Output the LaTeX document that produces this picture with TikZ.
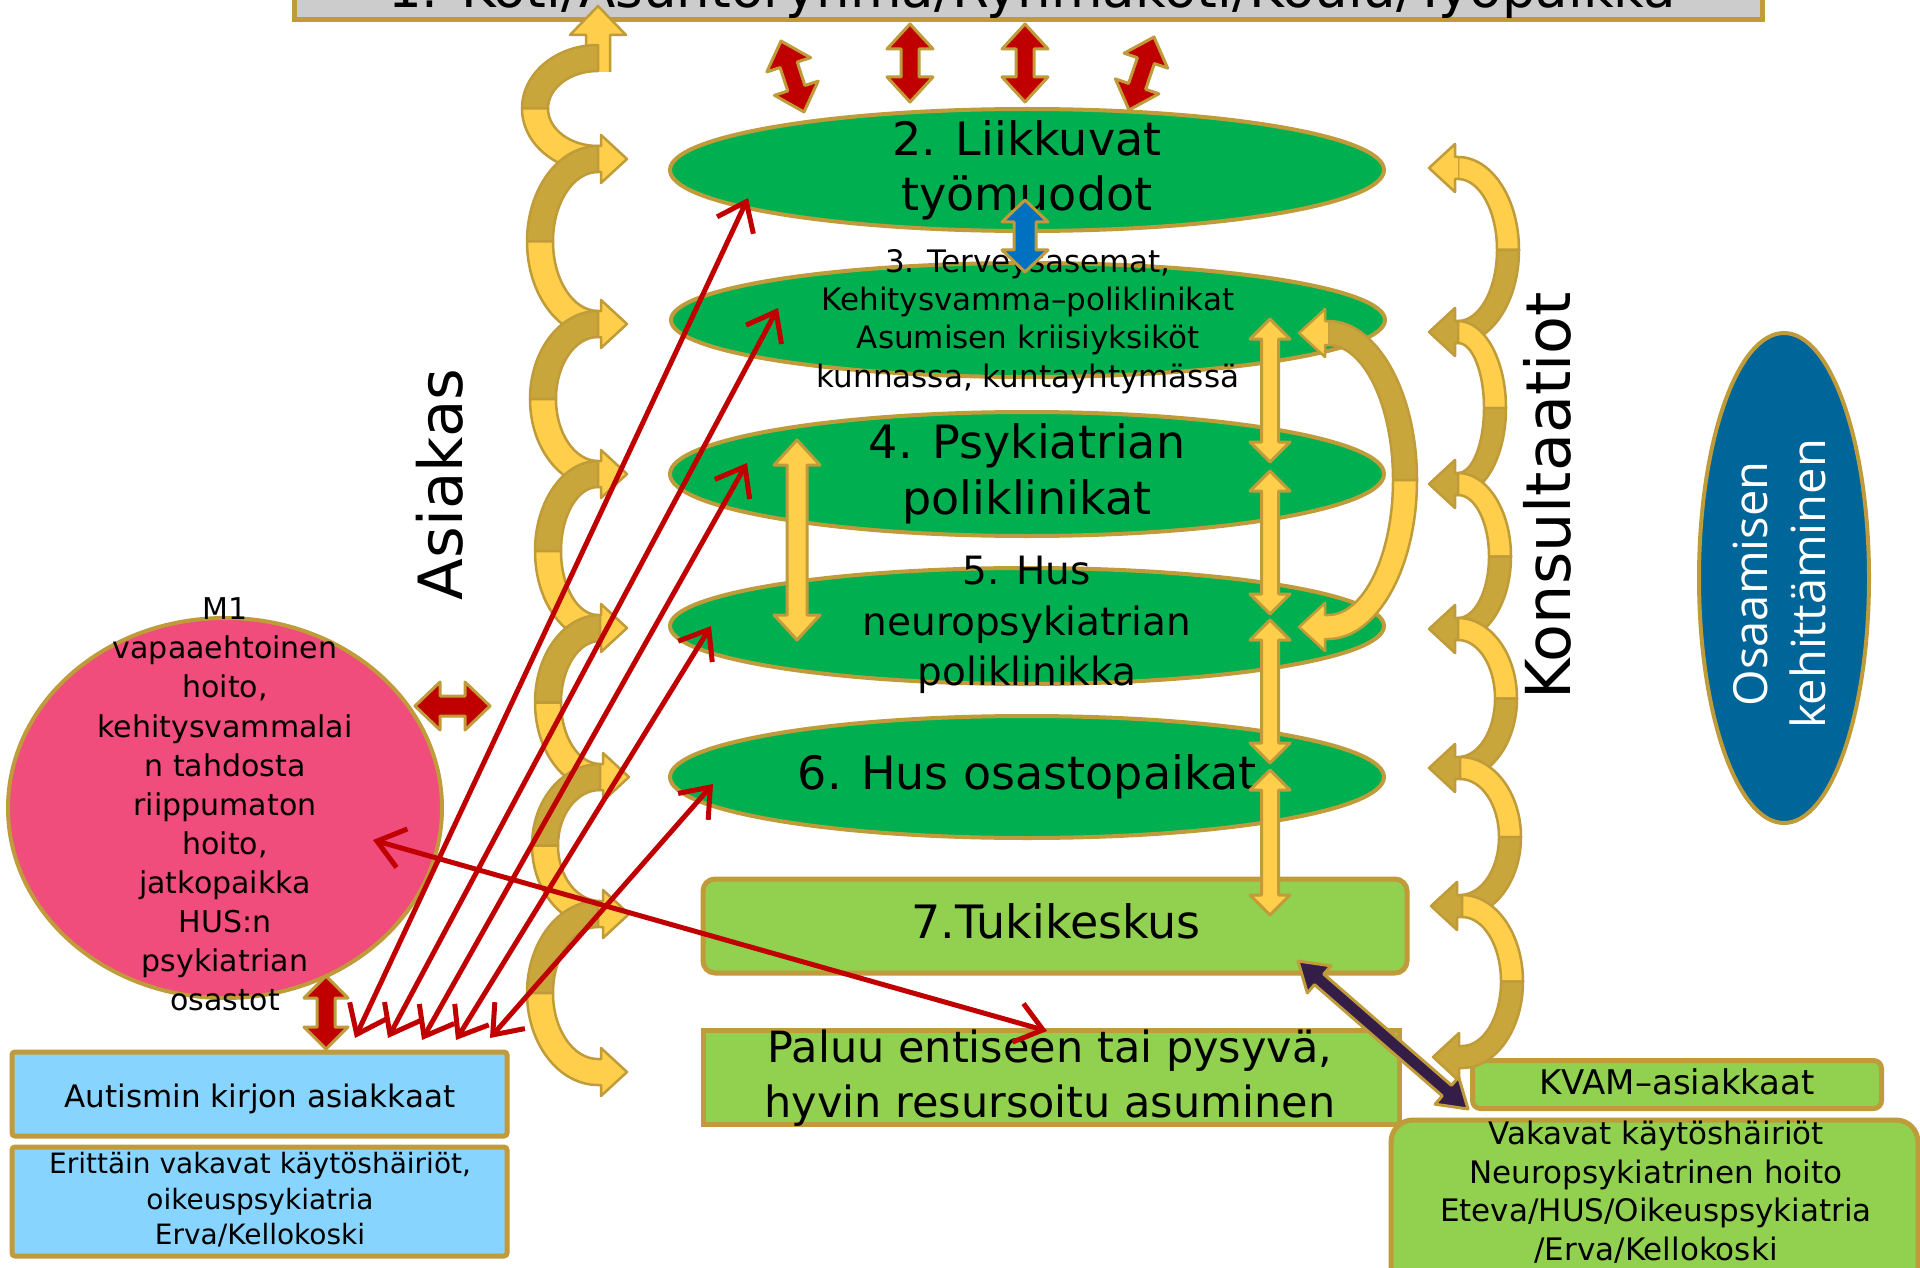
\documentclass[tikz,border=0pt]{standalone}
\usepackage{fontspec}
\usetikzlibrary{shapes.geometric,calc,arrows.meta}
\newfontfamily\vf{DejaVu Sans}
\newfontfamily\of{Open Sans}
\definecolor{grn}{RGB}{0,176,80}
\definecolor{lgrn}{RGB}{146,208,80}
\definecolor{gold}{RGB}{192,155,57}
\definecolor{dband}{RGB}{201,166,60}
\definecolor{lyel}{RGB}{255,207,75}
\definecolor{dred}{RGB}{192,0,0}
\definecolor{blu}{RGB}{0,112,192}
\definecolor{navy}{RGB}{0,102,153}
\definecolor{pnk}{RGB}{240,76,124}
\definecolor{lblu}{RGB}{135,212,255}
\definecolor{gry}{RGB}{204,204,204}
\definecolor{purp}{RGB}{52,30,72}
\newcommand\fsz[2]{\fontsize{#1}{#2}\selectfont}
% block double arrow: #1 style, #2 from, #3 to, #4 half shaft, #5 half head, #6 head length
\newcommand\dbl[6]{%
 \coordinate (da) at ($(#2)!#6!(#3)$);
 \coordinate (db) at ($(#3)!#6!(#2)$);
 \filldraw[#1] (#2) -- ($(da)!#5!90:(#3)$) -- ($(da)!#4!90:(#3)$)
  -- ($(db)!#4!-90:(#2)$) -- ($(db)!#5!-90:(#2)$) -- (#3)
  -- ($(db)!#5!90:(#2)$) -- ($(db)!#4!90:(#2)$)
  -- ($(da)!#4!-90:(#3)$) -- ($(da)!#5!-90:(#3)$) -- cycle;}
% band half width
\newcommand\bw{13}
% curved arrow: #1 xc, #2 y top, #3 y bottom, #4 a, #5 upper colour, #6 lower colour, #7 mirror
\newcommand\carrow[7]{%
 \pgfmathsetmacro\cym{(#2+#3)/2}%
 \pgfmathsetmacro\cbo{(#3-#2)/2+\bw}%
 \pgfmathsetmacro\cbi{(#3-#2)/2-\bw}%
 \pgfmathsetmacro\cao{#4+\bw}%
 \pgfmathsetmacro\cai{#4-\bw}%
 \begin{scope}[shift={(#1,0)},xscale=#7]
  \filldraw[band,fill=#5] (0,#2-\bw) arc[start angle=270,end angle=180,x radius=\cao,y radius=\cbo]
   -- (-\cai,\cym) arc[start angle=180,end angle=270,x radius=\cai,y radius=\cbi] -- cycle;
  \filldraw[band,fill=#6] (-\cao,\cym) arc[start angle=180,end angle=90,x radius=\cao,y radius=\cbo]
   -- (3,#3+\bw) -- (3,#3+24) -- (29,#3) -- (3,#3-24) -- (3,#3-\bw) -- (0,#3-\bw)
   arc[start angle=90,end angle=180,x radius=\cai,y radius=\cbi] -- cycle;
 \end{scope}}
% extra head at the top end: #1 xc, #2 y, #3 mirror, #4 colour
\newcommand\tophead[4]{%
 \begin{scope}[shift={(#1,0)},xscale=#3]
  \filldraw[band,fill=#4] (0,#2-\bw) -- (3,#2-\bw) -- (3,#2-24) -- (29,#2) -- (3,#2+24) -- (3,#2+\bw) -- (0,#2+\bw);
 \end{scope}}
\begin{document}
\begin{tikzpicture}[x=1pt,y=-1pt,
  gell/.style={ellipse, fill=grn, draw=gold, line width=4pt, minimum width=714pt, inner sep=0pt},
  gbox/.style={rectangle, fill=lgrn, draw=gold, line width=5pt, inner sep=0pt},
  bbox/.style={rectangle, rounded corners=3pt, fill=lblu, draw=gold, line width=5pt, inner sep=0pt, minimum width=495pt},
  txt/.style={inner sep=0pt, align=center},
  band/.style={draw=gold, line width=2.5pt, line join=round},
  redblk/.style={fill=dred, draw=gold, line width=3pt, line join=round},
  yelblk/.style={fill=lyel, draw=gold, line width=3pt, line join=round},
  blublk/.style={fill=blu, draw=gold, line width=3pt, line join=round},
  purblk/.style={fill=purp, draw=gold, line width=3pt, line join=round},
  redln/.style={draw=dred, line width=5pt, {Straight Barb[length=26pt,width=40pt]}-{Straight Barb[length=26pt,width=40pt]}}]
\useasboundingbox (0,0) rectangle (1920,1268);
\clip (0,0) rectangle (1920,1268);
\fill[white] (0,0) rectangle (1920,1268);

% ---- boxes and ellipses
\node[rectangle, fill=gry, draw=gold, line width=5pt, minimum width=1468pt, minimum height=100pt] (b1) at (1028,-30) {};
\node[txt, font=\vf\fsz{53}{60}, anchor=base] (t1) at (1032,8) {1. Koti/Asuntoryhmä/Ryhmäkoti/Koulu/Työpaikka};

\node[gell, minimum height=122pt] (e2) at (1027,170) {};
\node[gell, minimum height=114pt] (e3) at (1028,320) {};
\node[gell, minimum height=124pt] (e4) at (1027,474) {};
\node[gell, minimum height=116pt] (e5) at (1027,626) {};
\node[gell, minimum height=122pt] (e6) at (1027,777) {};

\node[gbox, rounded corners=12pt, minimum width=704pt, minimum height=94pt] (b7) at (1055,926) {};
\node[gbox, minimum width=696pt, minimum height=94pt] (bp) at (1051,1077) {};
\node[gbox, rounded corners=8pt, minimum width=409pt, minimum height=48pt] (bk) at (1677,1084.5) {};
\node[gbox, rounded corners=22pt, minimum width=527pt, minimum height=180pt] (bv) at (1654.5,1210) {};
\node[bbox, minimum height=84pt] (ba) at (259.5,1094) {};
\node[bbox, minimum height=109pt] (be) at (259.5,1201.5) {};
\node[ellipse, fill=pnk, draw=gold, line width=4pt, minimum width=434pt, minimum height=380pt, inner sep=0pt] (m1) at (225,808) {};
\node[ellipse, fill=navy, draw=gold, line width=4pt, minimum width=170pt, minimum height=490pt, inner sep=0pt] (os) at (1784,578) {};

% ---- texts
\node[txt, font=\vf\fsz{46}{55}] (t2) at (1027,170.5) {2. Liikkuvat\\työmuodot};
\node[txt, font=\vf\fsz{31}{38.3}] (t3) at (1028,321.5) {3. Terveysasemat,\\Kehitysvamma–poliklinikat\\Asumisen kriisiyksiköt\\kunnassa, kuntayhtymässä};
\node[txt, font=\vf\fsz{46}{56}] (t4) at (1027,474) {4. Psykiatrian\\poliklinikat};
\node[txt, font=\vf\fsz{39}{50.5}] (t5) at (1027,625) {5. Hus\\neuropsykiatrian\\poliklinikka};
\node[txt, font=\vf\fsz{46}{55}] (t6) at (1027,776.5) {6. Hus osastopaikat};
\node[txt, font=\vf\fsz{46}{55}] (t7) at (1056,921.5) {7.Tukikeskus};
\node[txt, font=\vf\fsz{43}{55}] (tp) at (1050,1078) {Paluu entiseen tai pysyvä,\\hyvin resursoitu asuminen};
\node[txt, font=\vf\fsz{34}{40}] (tk) at (1677,1082) {KVAM–asiakkaat};
\node[txt, font=\vf\fsz{31}{38.5}] (tv) at (1656,1192) {Vakavat käytöshäiriöt\\Neuropsykiatrinen hoito\\Eteva/HUS/Oikeuspsykiatria\\/Erva/Kellokoski};
\node[txt, font=\vf\fsz{30}{39.1}] (tm) at (225,804.5) {M1\\vapaaehtoinen\\hoito,\\kehitysvammalai\\n tahdosta\\riippumaton\\hoito,\\jatkopaikka\\HUS:n\\psykiatrian\\osastot};
\node[txt, font=\vf\fsz{31}{38}] (ta) at (260,1099) {Autismin kirjon asiakkaat};
\node[txt, font=\vf\fsz{28}{35.6}] (te) at (260,1200) {Erittäin vakavat käytöshäiriöt,\\oikeuspsykiatria\\Erva/Kellokoski};
\node[txt, font=\vf\fsz{61}{70}, rotate=90] (tas) at (440,484.5) {Asiakas};
\node[txt, font=\vf\fsz{62}{70}, rotate=90] (tko) at (1547.5,496) {Konsultaatiot};
\node[txt, font=\of\fsz{47}{58}, text=white, rotate=90] (tos) at (1779.5,584) {Osaamisen\\kehittäminen};

% ---- curved arrows, left column
\filldraw[band, fill=lyel] (586,72) -- (586,35) -- (570,35) -- (598,6) -- (626,35) -- (610,35) -- (610,72);
\carrow{598}{58}{159}{63}{dband}{lyel}{1}
\carrow{598}{159}{324}{58}{dband}{lyel}{1}
\carrow{598}{324}{474}{55}{dband}{lyel}{1}
\carrow{598}{474}{628}{50}{dband}{lyel}{1}
\carrow{600}{628}{777}{52}{dband}{lyel}{1}
\carrow{600}{777}{914}{55}{dband}{lyel}{1}
\carrow{598}{914}{1072}{58}{dband}{lyel}{1}

% ---- curved arrows, right column (narrower band)
\renewcommand\bw{11}
\carrow{1458}{168}{332}{50}{lyel}{dband}{-1}
\tophead{1458}{168}{-1}{lyel}
\carrow{1458}{332}{484}{37}{lyel}{dband}{-1}
\carrow{1458}{484}{629}{42}{lyel}{dband}{-1}
\carrow{1458}{629}{768}{48}{lyel}{dband}{-1}
\carrow{1460}{768}{906}{50}{lyel}{dband}{-1}
\carrow{1462}{906}{1057}{50}{lyel}{dband}{-1}
% big curve between 3 and 5
\renewcommand\bw{12}
\carrow{1328}{333}{627}{77}{dband}{lyel}{-1}
\tophead{1328}{333}{-1}{lyel}

% ---- block arrows
\coordinate (a1s) at (781,41);   \coordinate (a1e) at (804,112);
\coordinate (a2s) at (910,24);   \coordinate (a2e) at (910,102);
\coordinate (a3s) at (1025,24);  \coordinate (a3e) at (1025,102);
\coordinate (a4s) at (1154,37);  \coordinate (a4e) at (1129,110);
\coordinate (bls) at (1025,200); \coordinate (ble) at (1025,272);
\coordinate (y0s) at (797,440);  \coordinate (y0e) at (797,640);
\coordinate (y1s) at (1270,319); \coordinate (y1e) at (1270,462);
\coordinate (y2s) at (1270,471); \coordinate (y2e) at (1270,614);
\coordinate (y3s) at (1270,620); \coordinate (y3e) at (1270,763);
\coordinate (y4s) at (1270,770); \coordinate (y4e) at (1270,915);
\coordinate (rhs) at (415,706);  \coordinate (rhe) at (490,706);
\coordinate (rvs) at (326,976);  \coordinate (rve) at (326,1049);
\coordinate (pu1) at (1298,961); \coordinate (pu2) at (1468,1109);
\dbl{redblk}{a1s}{a1e}{9pt}{23pt}{25pt}
\dbl{redblk}{a2s}{a2e}{9pt}{23pt}{25pt}
\dbl{redblk}{a3s}{a3e}{9pt}{23pt}{25pt}
\dbl{redblk}{a4s}{a4e}{9pt}{23pt}{25pt}
\dbl{blublk}{bls}{ble}{11pt}{23pt}{22pt}
\dbl{yelblk}{y0s}{y0e}{10pt}{23pt}{25pt}
\dbl{yelblk}{y1s}{y1e}{8.5pt}{20pt}{20pt}
\dbl{yelblk}{y2s}{y2e}{8.5pt}{20pt}{20pt}
\dbl{yelblk}{y3s}{y3e}{8.5pt}{20pt}{20pt}
\dbl{yelblk}{y4s}{y4e}{8.5pt}{20pt}{20pt}
\dbl{redblk}{rhs}{rhe}{10pt}{24pt}{25pt}
\dbl{redblk}{rvs}{rve}{9pt}{22pt}{22pt}
\dbl{purblk}{pu1}{pu2}{7pt}{18pt}{28pt}

% ---- thin red arrows
\coordinate (r1a) at (355,1038); \coordinate (r1b) at (748,198);
\coordinate (r2a) at (388,1038); \coordinate (r2b) at (778,308);
\coordinate (r3a) at (422,1040); \coordinate (r3b) at (747,463);
\coordinate (r4a) at (456,1040); \coordinate (r4b) at (711,626);
\coordinate (r5a) at (490,1038); \coordinate (r5b) at (713,784);
\coordinate (r6a) at (373,840);  \coordinate (r6b) at (1047,1031);
\draw[redln] (r1a) -- (r1b);
\draw[redln] (r2a) -- (r2b);
\draw[redln] (r3a) -- (r3b);
\draw[redln] (r4a) -- (r4b);
\draw[redln] (r5a) -- (r5b);
\draw[redln] (r6a) -- (r6b);
\end{tikzpicture}
\end{document}
